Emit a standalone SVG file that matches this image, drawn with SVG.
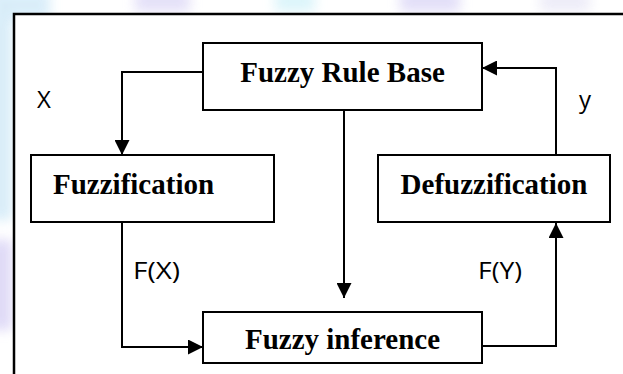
<svg xmlns="http://www.w3.org/2000/svg" width="623" height="374" viewBox="0 0 623 374">
  <defs>
    <style>
      .box { fill: #ffffff; stroke: #000000; stroke-width: 2; }
      .title { font-family: "Liberation Serif", "Times New Roman", serif; font-weight: bold; font-size: 29px; fill: #000000; }
      .lbl { font-family: "Open Sans", "Liberation Sans", sans-serif; font-size: 24px; fill: #000000; }
      .conn { fill: none; stroke: #000000; stroke-width: 2; }
    </style>
    <marker id="arrow" viewBox="0 0 10 10" refX="10" refY="5" markerWidth="7.5" markerHeight="7.5" markerUnits="strokeWidth" orient="auto">
      <path d="M0,0 L10,5 L0,10 Z" fill="#000000"/>
    </marker>
    <filter id="blur" x="-20%" y="-20%" width="140%" height="140%">
      <feGaussianBlur stdDeviation="6"/>
    </filter>
  </defs>

  <!-- watermark background -->
  <rect x="0" y="0" width="623" height="374" fill="#ffffff"/>
  <g filter="url(#blur)" opacity="0.9">
    <rect x="-10" y="-10" width="60" height="30" fill="#d6ecf9"/>
    <rect x="-10" y="0" width="22" height="220" fill="#d4ebf8"/>
    <rect x="-10" y="240" width="22" height="90" fill="#dcd6f6"/>
    <rect x="135" y="-10" width="55" height="22" fill="#e2def8"/>
    <rect x="275" y="-10" width="40" height="22" fill="#d9f4fa"/>
    <rect x="400" y="-10" width="60" height="22" fill="#e0dcf8"/>
    <rect x="540" y="-10" width="50" height="22" fill="#ecebf8"/>
  </g>

  <!-- outer frame -->
  <rect x="14" y="14" width="620" height="370" fill="#ffffff"/>
  <path d="M14,374 V14 H623" fill="none" stroke="#000000" stroke-width="2.5"/>

  <!-- connectors -->
  <g id="connectors">
    <path class="conn" d="M203,72 H122 V155" marker-end="url(#arrow)"/>
    <path class="conn" d="M344,110 V298" marker-end="url(#arrow)"/>
    <path class="conn" d="M122,222 V347 H203" marker-end="url(#arrow)"/>
    <path class="conn" d="M482,346 H556 V223" marker-end="url(#arrow)"/>
    <path class="conn" d="M556,155 V68 H482" marker-end="url(#arrow)"/>
  </g>

  <!-- labels -->
  <g id="labels">
    <text class="lbl" x="37" y="108">X</text>
    <text class="lbl" x="579" y="108">y</text>
    <text class="lbl" x="133" y="279" textLength="47" lengthAdjust="spacingAndGlyphs">F(X)</text>
    <text class="lbl" x="478" y="279" textLength="44" lengthAdjust="spacingAndGlyphs">F(Y)</text>
  </g>

  <g id="rule-base">
    <rect class="box" x="203" y="43" width="279" height="67"/>
    <text class="title" x="342.5" y="82" text-anchor="middle">Fuzzy Rule Base</text>
  </g>

  <g id="fuzzification">
    <rect class="box" x="31" y="155" width="243" height="67"/>
    <text class="title" x="53" y="194">Fuzzification</text>
  </g>

  <g id="defuzzification">
    <rect class="box" x="378" y="155" width="232" height="67"/>
    <text class="title" x="494" y="194" text-anchor="middle">Defuzzification</text>
  </g>

  <g id="fuzzy-inference">
    <rect class="box" x="203" y="312" width="279" height="51"/>
    <text class="title" x="342.5" y="349" text-anchor="middle">Fuzzy inference</text>
  </g>
</svg>
